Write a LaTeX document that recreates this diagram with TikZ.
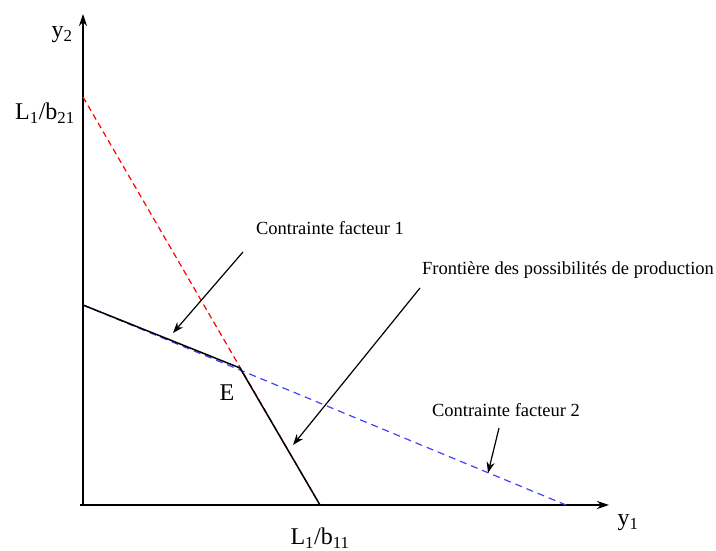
\documentclass[tikz,border=0pt]{standalone}
\usepackage{fontspec}
\setmainfont{Liberation Serif}
\usetikzlibrary{arrows.meta}
\tikzset{axelab/.style={font=\fontsize{24}{26}\selectfont},
notelab/.style={font=\fontsize{18.5}{20}\selectfont},
fleche/.style={-{Stealth[length=11pt,width=8pt]},line width=1.2pt}}
\begin{document}
\begin{tikzpicture}[x=1pt,y=1pt]
\useasboundingbox(0,0)rectangle(716,551);
\coordinate(O)at(83,46);
\coordinate(Ytop)at(83,537);
\coordinate(Xend)at(609,46);
\coordinate(A)at(83,454);
\coordinate(B)at(320,46);
\coordinate(C)at(83,246);
\coordinate(D)at(566,46);
\coordinate(E)at(240,183);
\draw[-{Stealth[length=12pt,width=8pt]},line width=1.4pt](O)--(Ytop);
\draw[-{Stealth[length=12pt,width=8pt]},line width=1.4pt](80,46)--(Xend);
\draw[red,dash pattern=on 6pt off 4pt,line width=1.2pt](A)--(B);
\draw[blue!75!white,dash pattern=on 7pt off 5pt,line width=1.2pt](C)--(D);
\draw[line width=1.5pt](C)--(E)--(B);
\node[axelab](y2)at(62,516){y\textsubscript{2}};
\node[axelab](l21)at(45,438){L\textsubscript{1}/b\textsubscript{21}};
\node[axelab](e)at(227,158){E};
\node[axelab](l11)at(320,13){L\textsubscript{1}/b\textsubscript{11}};
\node[axelab](y1)at(628,28){y\textsubscript{1}};
\node[notelab](cf1)at(330,323){Contrainte facteur 1};
\node[notelab](fpp)at(568,281){Fronti\`ere des possibilit\'es de production};
\node[notelab](cf2)at(506,141){Contrainte facteur 2};
\coordinate(p1)at(243,299);\coordinate(q1)at(173,218);
\coordinate(p2)at(420,263);\coordinate(q2)at(293,106);
\coordinate(p3)at(499,123);\coordinate(q3)at(488,78);
\draw[fleche](p1)--(q1);
\draw[fleche](p2)--(q2);
\draw[fleche](p3)--(q3);
\end{tikzpicture}
\end{document}
